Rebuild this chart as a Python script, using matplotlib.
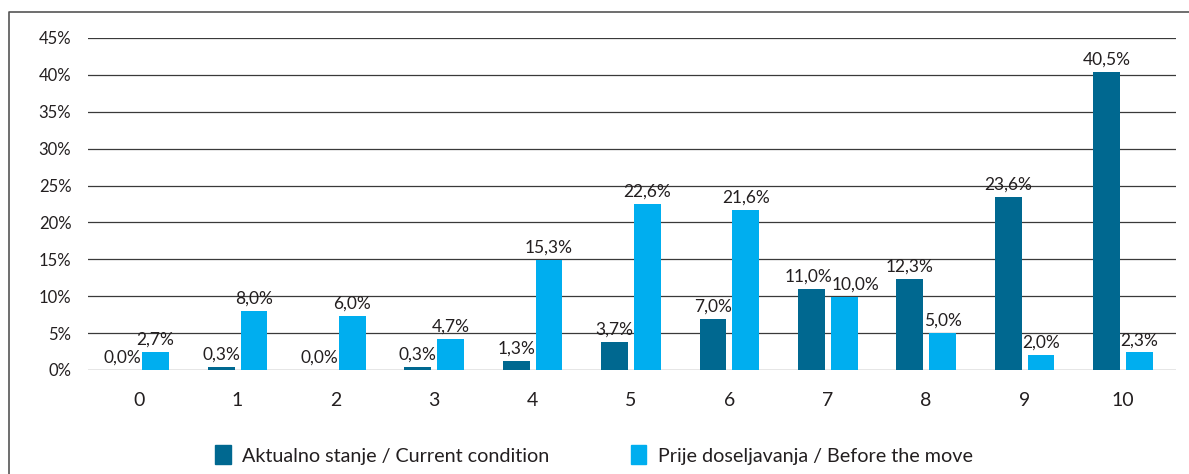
import matplotlib.pyplot as plt
import numpy as np
from matplotlib.lines import Line2D
from matplotlib.patches import Rectangle

# scores 0-10
categories = ["0", "1", "2", "3", "4", "5", "6", "7", "8", "9", "10"]

# bar heights as drawn in the picture (%)
current = [0.0, 0.4, 0.0, 0.4, 1.26, 3.8, 6.9, 11.0, 12.3, 23.5, 40.4]
before = [2.45, 7.97, 7.3, 4.2, 14.9, 22.5, 21.7, 9.9, 5.0, 2.07, 2.4]

# printed value labels
current_labels = ["0,0%", "0,3%", "0,0%", "0,3%", "1,3%", "3,7%", "7,0%",
                  "11,0%", "12,3%", "23,6%", "40,5%"]
before_labels = ["2,7%", "8,0%", "6,0%", "4,7%", "15,3%", "22,6%", "21,6%",
                 "10,0%", "5,0%", "2,0%", "2,3%"]

yticks = [0, 5, 10, 15, 20, 25, 30, 35, 40, 45]

dark = "#006890"
light = "#00aeef"
txt = "#231f20"

plt.rcParams['font.family'] = ['Lato', 'DejaVu Sans']

fig = plt.figure(figsize=(11.89, 4.74), dpi=100)
ax = fig.add_axes([88/1189, 1 - 370/474, (1176-88)/1189, (370-38)/474])

x = np.arange(len(categories))
w = 0.273
off = 0.167
b1 = ax.bar(x - off, current, w, color=dark, zorder=3)
b2 = ax.bar(x + off, before, w, color=light, zorder=3)

for k, (bars, labs) in enumerate(((b1, current_labels), (b2, before_labels))):
    for i, (rect, lab) in enumerate(zip(bars, labs)):
        dx = 0
        if i == 7:
            # the 11,0% / 10,0% pair is pushed apart as in the original
            dx = -2 if k == 0 else 8
        ax.annotate(lab, (rect.get_x() + rect.get_width()/2, rect.get_height()),
                    xytext=(dx, 3), textcoords="offset points",
                    ha="center", va="bottom", fontsize=12.5, color=txt, zorder=4)

ax.set_xlim(-0.52, 10.54)
ax.set_ylim(0, 45)
ax.set_yticks(yticks)
ax.set_yticklabels([f"{v}%" for v in yticks], fontsize=12, color=txt)
ax.set_xticks(x)
ax.set_xticklabels(categories, fontsize=14, color=txt)
ax.tick_params(axis="both", length=0)
ax.tick_params(axis="y", pad=12)
ax.tick_params(axis="x", pad=16)
ax.yaxis.grid(True, color="#3a3a3a", linewidth=0.9, zorder=0)
for s in ax.spines.values():
    s.set_visible(False)

# outer frame (open on right and bottom)
fx = 9/1189
fy = 1 - 12/474
fig.add_artist(Line2D([fx, fx, 1], [0, fy, fy], transform=fig.transFigure,
                      color="#555555", linewidth=1.2))

handles = [Rectangle((0, 0), 1, 1, color=dark), Rectangle((0, 0), 1, 1, color=light)]
fig.legend(handles, ["Aktualno stanje / Current condition",
                     "Prije doseljavanja / Before the move"],
           loc="center", bbox_to_anchor=(594/1189, 1 - 455/474), ncol=2,
           frameon=False, fontsize=14.2, handlelength=0.8, handleheight=1.1,
           handletextpad=0.6, columnspacing=4.1, labelcolor=txt)

fig.savefig("out.png", dpi=100)
